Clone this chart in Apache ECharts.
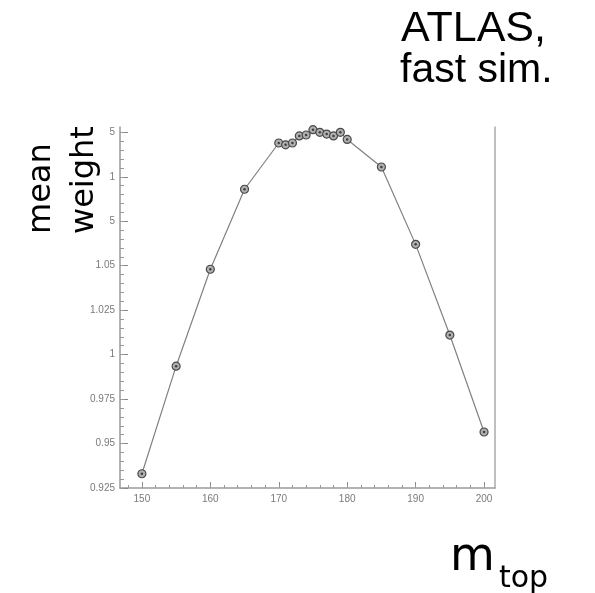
<!DOCTYPE html>
<html><head><meta charset="utf-8">
<script src="https://cdn.jsdelivr.net/npm/echarts@6/dist/echarts.min.js"></script>
<style>html,body{margin:0;padding:0;background:#fff}#c{width:595px;height:593px}</style>
</head><body><div id="c"></div>
<script>
var mTop = [150,155,160,165,170,171,172,173,174,175,176,177,178,179,180,185,190,195,200];
var meanWeight = [0.933,0.9935,1.048,1.093,1.119,1.118,1.119,1.123,1.1235,1.1265,1.125,1.124,1.123,1.125,1.121,1.1055,1.062,1.011,0.9565];
var xTicks = [150,160,170,180,190,200];
var yTicks = [0.925,0.95,0.975,1,1.025,1.05,1.075,1.1,1.125];

var xMinor = [], yMinor = [];
for (var v = 148; v <= 200; v += 2) xMinor.push(v);
for (var i = 0; i < yTicks.length; i++) for (var k = 0; k < 5; k++) {
  var val = +(0.925 + i*0.025 + k*0.005).toFixed(4);
  if (val <= 1.128) yMinor.push(val);
}

var chart = echarts.init(document.getElementById('c'), null, {renderer:'canvas'});
var grey = '#9a9a9a';
var labelStyle = {color:'#7a7a7a', fontSize:10, fontFamily:'Liberation Sans, Arial, sans-serif'};
chart.setOption({
  animation:false,
  backgroundColor:'#fff',
  grid:{left:120, right:100, top:127, bottom:105},
  xAxis:[
    {type:'value', min:146.8, max:201.6, position:'bottom',
     axisLine:{show:true, onZero:false, lineStyle:{color:grey, width:1.5}},
     axisTick:{show:true, inside:true, length:6, customValues:xTicks, lineStyle:{color:'#888'}},
     axisLabel:Object.assign({customValues:xTicks, margin:6}, labelStyle),
     splitLine:{show:false}},
    {type:'value', min:146.8, max:201.6, position:'bottom',
     axisLine:{show:false, onZero:false},
     axisTick:{show:true, inside:true, length:3, customValues:xMinor, lineStyle:{color:'#999'}},
     axisLabel:{show:false}, splitLine:{show:false}}
  ],
  yAxis:[
    {type:'value', min:0.925, max:1.128, position:'left',
     axisLine:{show:true, onZero:false, lineStyle:{color:grey, width:1.5}},
     axisTick:{show:true, inside:true, length:8, customValues:yTicks, lineStyle:{color:'#888'}},
     axisLabel:Object.assign({customValues:yTicks, margin:5, formatter:function(v){return String(+v.toFixed(3));}}, labelStyle),
     splitLine:{show:false}},
    {type:'value', min:0.925, max:1.128, position:'left',
     axisLine:{show:false, onZero:false},
     axisTick:{show:true, inside:true, length:4, customValues:yMinor, lineStyle:{color:'#999'}},
     axisLabel:{show:false}, splitLine:{show:false}},
    {type:'value', min:0.925, max:1.128, position:'right',
     axisLine:{show:true, onZero:false, lineStyle:{color:'#aaa', width:1.5}},
     axisTick:{show:false}, axisLabel:{show:false}, splitLine:{show:false}}
  ],
  series:[{
    type:'line', xAxisIndex:0, yAxisIndex:0,
    data: mTop.map(function(x,i){return [x, meanWeight[i]];}),
    symbol:'circle', symbolSize:8,
    lineStyle:{color:'#808080', width:1.2},
    itemStyle:{color:'#b0b0b0', borderColor:'#4a4a4a', borderWidth:1.2},
    z:3
  },{
    type:'scatter', xAxisIndex:0, yAxisIndex:0,
    data: mTop.map(function(x,i){return [x, meanWeight[i]];}),
    symbol:'circle', symbolSize:2.5, itemStyle:{color:'#222'}, z:4, silent:true
  }],
  graphic:[
    {type:'rect', shape:{x:58, y:110, width:51, height:140}, style:{fill:'#fff'}, z:100},
    {type:'text', x:58, y:234, rotation:Math.PI/2, z:101,
     style:{text:'mean', fontSize:32, fontFamily:'DejaVu Sans, sans-serif', fill:'#000', textAlign:'left', textVerticalAlign:'bottom'}},
    {type:'text', x:101, y:234, rotation:Math.PI/2, z:101,
     style:{text:'weight', fontSize:32, fontFamily:'DejaVu Sans, sans-serif', fill:'#000', textAlign:'left', textVerticalAlign:'bottom'}},
    {type:'text', x:401, y:51, z:101,
     style:{text:'ATLAS,', fontSize:43, fontFamily:'Liberation Sans, Arial, sans-serif', fill:'#000', textAlign:'left', textVerticalAlign:'bottom'}},
    {type:'text', x:400, y:91, z:101,
     style:{text:'fast sim.', fontSize:41, fontFamily:'Liberation Sans, Arial, sans-serif', fill:'#000', textAlign:'left', textVerticalAlign:'bottom'}},
    {type:'text', x:450, y:581, z:101,
     style:{text:'m', fontSize:46, fontFamily:'DejaVu Sans, sans-serif', fill:'#000', textAlign:'left', textVerticalAlign:'bottom'}},
    {type:'text', x:499, y:594, z:101,
     style:{text:'top', fontSize:30, fontFamily:'DejaVu Sans, sans-serif', fill:'#000', textAlign:'left', textVerticalAlign:'bottom'}}
  ]
});
</script>
</body></html>
